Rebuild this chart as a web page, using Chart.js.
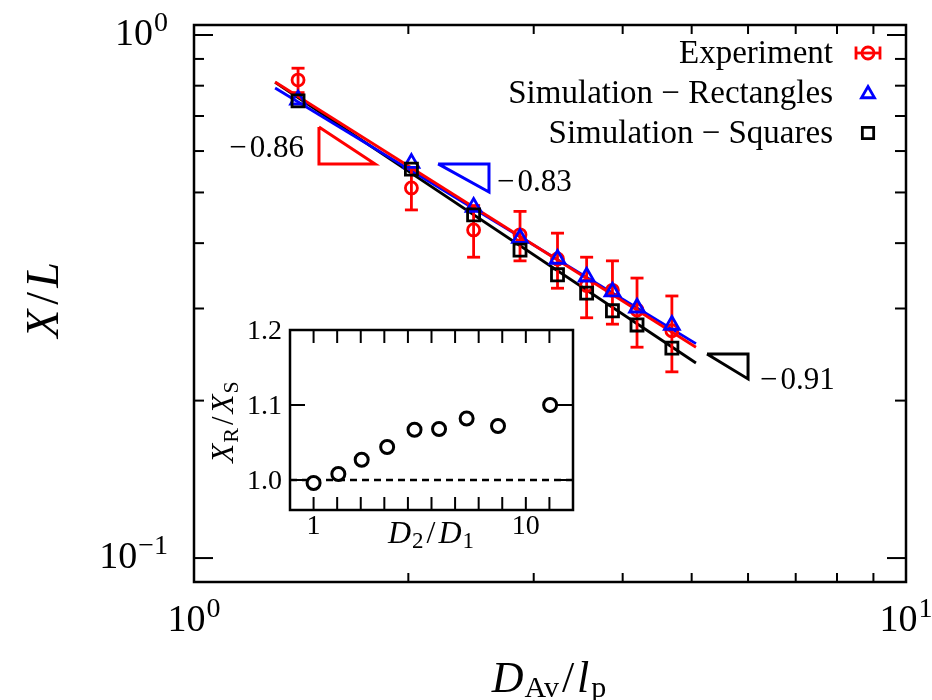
<!DOCTYPE html>
<html>
<head>
<meta charset="utf-8">
<script src="https://cdn.jsdelivr.net/npm/chart.js@4.4.1/dist/chart.umd.min.js"></script>
<style>
  html, body { margin: 0; padding: 0; background: #fff; }
  #wrap { position: relative; width: 932px; height: 700px; overflow: hidden; }
  #main { position: absolute; left: 0; top: 0; }
  #inset { position: absolute; left: 200px; top: 315px; }
</style>
</head>
<body>
<div id="wrap">
  <canvas id="main" width="932" height="700"></canvas>
  <canvas id="inset" width="400" height="240"></canvas>
</div>
<script>
// ---- main panel data: X/L against D_Av/l_p ----
const diameters      = [1.40, 2.02, 2.47, 2.87, 3.24, 3.56, 3.87, 4.19, 4.69];
const experiment     = [0.820, 0.510, 0.424, 0.415, 0.373, 0.332, 0.325, 0.298, 0.272];
const experimentErr  = [0.044, 0.047, 0.048, 0.045, 0.045, 0.044, 0.045, 0.045, 0.045];
const simRectangles  = [0.752, 0.569, 0.469, 0.409, 0.373, 0.345, 0.323, 0.301, 0.279];
const simSquares     = [0.748, 0.554, 0.453, 0.388, 0.348, 0.321, 0.297, 0.279, 0.252];
const seriesNames    = ['Experiment', 'Simulation \u2212 Rectangles', 'Simulation \u2212 Squares'];

// power-law fits, given by their two end points
const fitX           = [1.30, 5.07];
const fitExperiment  = [0.813, 0.253];
const fitRectangles  = [0.792, 0.257];
const fitSquares     = [0.812, 0.236];

// slope triangles (corner coordinates) and their exponent labels
const slopeExpX  = [1.498, 1.498, 1.796];  const slopeExpY  = [0.667, 0.567, 0.567];
const slopeRectX = [2.202, 2.596, 2.596];  const slopeRectY = [0.567, 0.567, 0.501];
const slopeSqX   = [5.254, 6.000, 6.000];  const slopeSqY   = [0.2455, 0.2455, 0.220];
const slopeLabels = ['\u22120.86', '\u22120.83', '\u22120.91'];

// main axes ticks
const mainXMajor = [1, 10];            const mainXExp = ['0', '1'];
const mainYMajor = [0.1, 1];           const mainYExp = ['\u22121', '0'];
const mainXMinor = [2, 3, 4, 5, 6, 7, 8, 9];
const mainYMinor = [0.2, 0.3, 0.4, 0.5, 0.6, 0.7, 0.8, 0.9];

// ---- inset data: X_R/X_S against D_2/D_1 ----
const ratioD     = [1.00, 2.05, 3.04, 4.12, 5.28, 6.32, 7.49, 8.82, 11.03];
const ratioX     = [0.996, 1.008, 1.027, 1.044, 1.067, 1.068, 1.082, 1.072, 1.100];
const refLineX   = [0, 12];
const refLineY   = [1, 1];
const insetXTicks = [1, 2, 3, 4, 5, 6, 7, 8, 9, 10, 11];
const insetXTickLabels = {1: '1', 10: '10'};
const insetYTicks = [1.0, 1.1, 1.2];
const insetYTickLabels = ['1.0', '1.1', '1.2'];

const FAMILY = '"Liberation Serif", "DejaVu Serif", serif';
const font = (size, italic) => (italic ? 'italic ' : '') + size + 'px ' + FAMILY;
const RED = '#ff0000', BLUE = '#0000ff', BLACK = '#000000';
const CLEAR = 'rgba(0,0,0,0)';
const LW = 2.8;

const pts = (xs, ys) => xs.map((v, i) => ({x: v, y: ys[i]}));
const closed = (xs, ys) => { const p = pts(xs, ys); p.push(p[0]); return p; };

// draw a run of text pieces (for sub/superscripts), aligned as a whole
function drawRuns(ctx, runs, x, y, align) {
  ctx.textAlign = 'left';
  ctx.textBaseline = 'alphabetic';
  let total = 0;
  const ws = runs.map(r => {
    ctx.font = r.font;
    const w = ctx.measureText(r.text).width + (r.gap || 0);
    total += w;
    return w;
  });
  let cx = align === 'center' ? x - total / 2 : align === 'right' ? x - total : x;
  runs.forEach((r, i) => {
    ctx.font = r.font;
    ctx.fillText(r.text, cx + (r.gap || 0), y + (r.dy || 0));
    cx += ws[i];
  });
}

function seg(ctx, x1, y1, x2, y2) {
  ctx.beginPath(); ctx.moveTo(x1, y1); ctx.lineTo(x2, y2); ctx.stroke();
}

// ---------------- main chart ----------------
const errorBars = {
  id: 'errorBars',
  afterDatasetDraw(chart, args) {
    const ds = chart.data.datasets[args.index];
    if (ds.label !== seriesNames[0]) return;
    const {ctx, scales: {x, y}} = chart;
    ctx.save();
    ctx.strokeStyle = RED;
    ctx.lineWidth = LW;
    diameters.forEach((d, i) => {
      const px = x.getPixelForValue(d);
      const top = y.getPixelForValue(experiment[i] + experimentErr[i]);
      const bot = y.getPixelForValue(experiment[i] - experimentErr[i]);
      seg(ctx, px, top, px, bot);
      seg(ctx, px - 6.5, top, px + 6.5, top);
      seg(ctx, px - 6.5, bot, px + 6.5, bot);
    });
    ctx.restore();
  }
};

const mainDecor = {
  id: 'mainDecor',
  afterDraw(chart) {
    const {ctx, chartArea: a, scales: {x, y}} = chart;
    ctx.save();
    ctx.strokeStyle = BLACK;
    ctx.fillStyle = BLACK;
    ctx.lineCap = 'butt';

    // inward ticks on all four sides
    ctx.lineWidth = 2;
    mainXMinor.forEach(v => {
      const px = x.getPixelForValue(v);
      seg(ctx, px, a.bottom, px, a.bottom - 9);
      seg(ctx, px, a.top, px, a.top + 9);
    });
    mainYMinor.forEach(v => {
      const py = y.getPixelForValue(v);
      seg(ctx, a.left, py, a.left + 10, py);
      seg(ctx, a.right, py, a.right - 11, py);
    });
    mainYMajor.forEach(v => {
      const py = y.getPixelForValue(v);
      seg(ctx, a.left, py, a.left + 19, py);
      seg(ctx, a.right, py, a.right - 19, py);
    });
    ctx.lineWidth = 2.5;
    ctx.strokeRect(a.left, a.top, a.right - a.left, a.bottom - a.top);

    // tick labels
    mainYMajor.forEach((v, i) => {
      const py = y.getPixelForValue(v);
      drawRuns(ctx, [
        {text: '10', font: font(38)},
        {text: mainYExp[i], font: font(28), dy: -14, gap: 1}
      ], a.left - 26, py + 10, 'right');
    });
    mainXMajor.forEach((v, i) => {
      const px = x.getPixelForValue(v);
      drawRuns(ctx, [
        {text: '10', font: font(38)},
        {text: mainXExp[i], font: font(28), dy: -14, gap: 1}
      ], px, 631, 'center');
    });

    // axis titles
    drawRuns(ctx, [
      {text: 'D', font: font(44, true)},
      {text: 'Av', font: font(30), dy: 5, gap: 1},
      {text: '/', font: font(44), gap: 3},
      {text: 'l', font: font(44, true), gap: 3},
      {text: 'p', font: font(30), dy: 5, gap: 2}
    ], (a.left + a.right) / 2 - 1, 692, 'center');

    ctx.save();
    ctx.translate(58, 300);
    ctx.rotate(-Math.PI / 2);
    drawRuns(ctx, [
      {text: 'X', font: font(46, true)},
      {text: '/', font: font(46), gap: 5},
      {text: 'L', font: font(46, true), gap: 4}
    ], 0, 0, 'center');
    ctx.restore();

    // slope labels next to their triangles
    ctx.fillStyle = BLACK;
    const slopeText = t => [
      {text: t.charAt(0), font: font(31)},
      {text: t.slice(1), font: font(31), gap: 3}
    ];
    drawRuns(ctx, slopeText(slopeLabels[0]),
      x.getPixelForValue(slopeExpX[0]) - 15, y.getPixelForValue(slopeExpY[1]) - 7, 'right');
    drawRuns(ctx, slopeText(slopeLabels[1]),
      x.getPixelForValue(slopeRectX[2]) + 8, y.getPixelForValue(slopeRectY[2]) - 1, 'left');
    drawRuns(ctx, slopeText(slopeLabels[2]),
      x.getPixelForValue(slopeSqX[2]) + 12, y.getPixelForValue(slopeSqY[2]) + 10, 'left');

    // legend, text right-aligned with the marker on its right
    const rows = [53, 93, 133];
    const mx = 868, tx = 833;
    ctx.textBaseline = 'middle';
    ctx.textAlign = 'right';
    ctx.font = font(33);
    seriesNames.forEach((n, i) => ctx.fillText(n, tx, rows[i] + 1));
    ctx.lineWidth = LW;
    ctx.fillStyle = CLEAR;
    // experiment marker with its error bar laid horizontally
    ctx.strokeStyle = RED;
    seg(ctx, mx - 12, rows[0], mx + 12, rows[0]);
    seg(ctx, mx - 12, rows[0] - 6.5, mx - 12, rows[0] + 6.5);
    seg(ctx, mx + 12, rows[0] - 6.5, mx + 12, rows[0] + 6.5);
    Chart.helpers.drawPoint(ctx, {pointStyle: 'circle', radius: 6, borderWidth: LW, rotation: 0}, mx, rows[0]);
    ctx.strokeStyle = BLUE;
    Chart.helpers.drawPoint(ctx, {pointStyle: 'triangle', radius: 7.5, borderWidth: LW, rotation: 0}, mx, rows[1] + 1);
    ctx.strokeStyle = BLACK;
    Chart.helpers.drawPoint(ctx, {pointStyle: 'rect', radius: 8, borderWidth: LW, rotation: 0}, mx, rows[2]);
    ctx.restore();
  }
};

const fitLine = (ys, color, order) => ({
  data: pts(fitX, ys), showLine: true, borderColor: color, borderWidth: LW,
  pointRadius: 0, fill: false, tension: 0, order: order
});
const slopeTri = (xs, ys, color) => ({
  data: closed(xs, ys), showLine: true, borderColor: color, borderWidth: 3,
  borderJoinStyle: 'miter', pointRadius: 0, fill: false, tension: 0, order: 7
});
const markers = (label, ys, style, radius, color, order) => ({
  label: label, data: pts(diameters, ys), showLine: false,
  pointStyle: style, pointRadius: radius, pointHoverRadius: radius,
  borderColor: color, pointBorderColor: color, borderWidth: LW, pointBorderWidth: LW,
  backgroundColor: CLEAR, pointBackgroundColor: CLEAR, order: order
});

new Chart(document.getElementById('main'), {
  type: 'scatter',
  data: {
    datasets: [
      fitLine(fitSquares, BLACK, 10),
      fitLine(fitRectangles, BLUE, 9),
      fitLine(fitExperiment, RED, 8),
      slopeTri(slopeExpX, slopeExpY, RED),
      slopeTri(slopeRectX, slopeRectY, BLUE),
      slopeTri(slopeSqX, slopeSqY, BLACK),
      markers(seriesNames[0], experiment, 'circle', 6, RED, 3),
      markers(seriesNames[1], simRectangles, 'triangle', 8.5, BLUE, 2),
      markers(seriesNames[2], simSquares, 'rect', 8.5, BLACK, 1)
    ]
  },
  options: {
    responsive: false,
    animation: false,
    events: [],
    layout: {padding: {top: 25, right: 26, left: 0, bottom: 0}},
    plugins: {legend: {display: false}, tooltip: {enabled: false}},
    scales: {
      x: {
        type: 'logarithmic', min: 1, max: 10,
        ticks: {display: false}, grid: {display: false}, border: {display: false},
        afterFit: s => { s.height = 118; }
      },
      y: {
        type: 'logarithmic', min: 0.09, max: 1.045,
        ticks: {display: false}, grid: {display: false}, border: {display: false},
        afterFit: s => { s.width = 194; }
      }
    }
  },
  plugins: [errorBars, mainDecor]
});

// ---------------- inset ----------------
const insetDecor = {
  id: 'insetDecor',
  afterDraw(chart) {
    const {ctx, chartArea: a, scales: {x, y}} = chart;
    ctx.save();
    ctx.strokeStyle = BLACK;
    ctx.fillStyle = BLACK;
    ctx.lineWidth = 2;
    insetXTicks.forEach(v => {
      const px = x.getPixelForValue(v);
      seg(ctx, px, a.bottom, px, a.bottom - 13);
      seg(ctx, px, a.top, px, a.top + 13);
    });
    insetYTicks.forEach(v => {
      const py = y.getPixelForValue(v);
      seg(ctx, a.left, py, a.left + 15, py);
      seg(ctx, a.right, py, a.right - 15, py);
    });
    ctx.lineWidth = 2.5;
    ctx.strokeRect(a.left, a.top, a.right - a.left, a.bottom - a.top);

    insetYTicks.forEach((v, i) => {
      drawRuns(ctx, [{text: insetYTickLabels[i], font: font(28)}], a.left - 8, y.getPixelForValue(v) + 9, 'right');
    });
    insetXTicks.forEach(v => {
      if (!insetXTickLabels[v]) return;
      drawRuns(ctx, [{text: insetXTickLabels[v], font: font(28)}], x.getPixelForValue(v), 219, 'center');
    });

    drawRuns(ctx, [
      {text: 'D', font: font(32, true)},
      {text: '2', font: font(23), dy: 5, gap: 1},
      {text: '/', font: font(32), gap: 3},
      {text: 'D', font: font(32, true), gap: 3},
      {text: '1', font: font(23), dy: 5, gap: 1}
    ], 231, 228, 'center');

    ctx.save();
    ctx.translate(33, 107);
    ctx.rotate(-Math.PI / 2);
    drawRuns(ctx, [
      {text: 'X', font: font(31, true)},
      {text: 'R', font: font(22), dy: 5, gap: 1},
      {text: '/', font: font(31), gap: 3},
      {text: 'X', font: font(31, true), gap: 3},
      {text: 'S', font: font(22), dy: 5, gap: 1}
    ], 0, 0, 'center');
    ctx.restore();
    ctx.restore();
  }
};

new Chart(document.getElementById('inset'), {
  type: 'scatter',
  data: {
    datasets: [
      {
        data: pts(refLineX, refLineY), showLine: true, borderColor: BLACK, borderWidth: 2.5,
        borderDash: [7, 5], pointRadius: 0, fill: false, order: 2
      },
      {
        data: pts(ratioD, ratioX), showLine: false, pointStyle: 'circle', pointRadius: 6.5,
        borderColor: BLACK, pointBorderColor: BLACK, borderWidth: 3, pointBorderWidth: 3,
        backgroundColor: '#ffffff', pointBackgroundColor: '#ffffff', order: 1
      }
    ]
  },
  options: {
    responsive: false,
    animation: false,
    events: [],
    layout: {padding: {top: 15, right: 27, left: 0, bottom: 0}},
    plugins: {legend: {display: false}, tooltip: {enabled: false}},
    scales: {
      x: {
        type: 'linear', min: 0, max: 12,
        ticks: {display: false}, grid: {display: false}, border: {display: false},
        afterFit: s => { s.height = 45; }
      },
      y: {
        type: 'linear', min: 0.96, max: 1.2,
        ticks: {display: false}, grid: {display: false}, border: {display: false},
        afterFit: s => { s.width = 90; }
      }
    }
  },
  plugins: [insetDecor]
});
</script>
</body>
</html>
